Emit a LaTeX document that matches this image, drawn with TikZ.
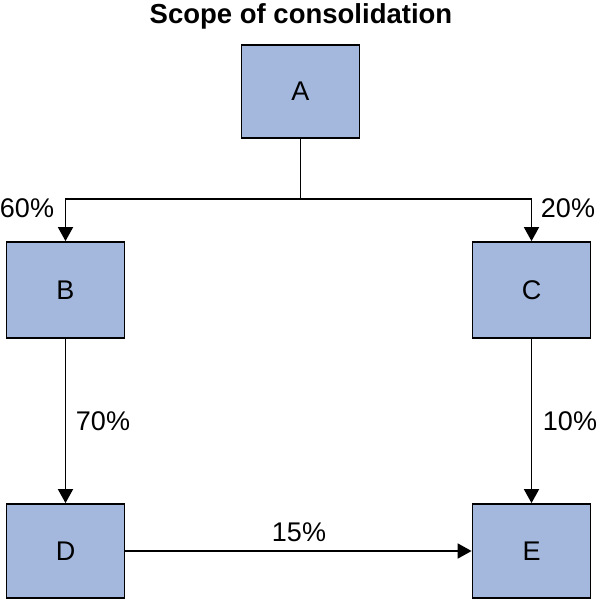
\documentclass[tikz,border=0pt]{standalone}
\usepackage{fontspec}
\setmainfont{Liberation Sans}
\usetikzlibrary{arrows.meta}
\definecolor{boxfill}{HTML}{A4B8DE}
\begin{document}
\begin{tikzpicture}[x=1pt,y=-1pt,
  entity/.style={draw=black,fill=boxfill,line width=1.8pt,minimum width=118pt,minimum height=93pt,inner sep=0pt,font=\fontsize{27}{31}\selectfont},
  conn/.style={line width=1.8pt},
  arr/.style={conn,-{Triangle[width=15pt,length=14pt]}},
  pct/.style={font=\fontsize{27}{31}\selectfont,inner sep=0pt}]
\useasboundingbox (0,0) rectangle (600,600);
\node[font=\bfseries\fontsize{27.5}{32}\selectfont] (title) at (301,16) {Scope of consolidation};
\node[entity] (A) at (300.5,91.5) {A};
\node[entity,minimum height=96pt] (B) at (65.5,290) {B};
\node[entity,minimum height=96pt] (C) at (531.5,290) {C};
\node[entity,minimum height=94pt] (D) at (65.5,551) {D};
\node[entity,minimum height=94pt] (E) at (531.5,551) {E};
\coordinate (J) at (300.5,199);
\draw[conn] (A.south) -- (J);
\draw[arr] (J) -| (B.north);
\draw[arr] (J) -| (C.north);
\draw[arr] (B) -- (D);
\draw[arr] (C) -- (E);
\draw[arr] (D) -- (E);
\node[pct] (p60) at (27,208) {60\%};
\node[pct] (p20) at (568,208) {20\%};
\node[pct] (p70) at (103,421) {70\%};
\node[pct] (p10) at (570,421) {10\%};
\node[pct] (p15) at (299,532) {15\%};
\end{tikzpicture}
\end{document}
